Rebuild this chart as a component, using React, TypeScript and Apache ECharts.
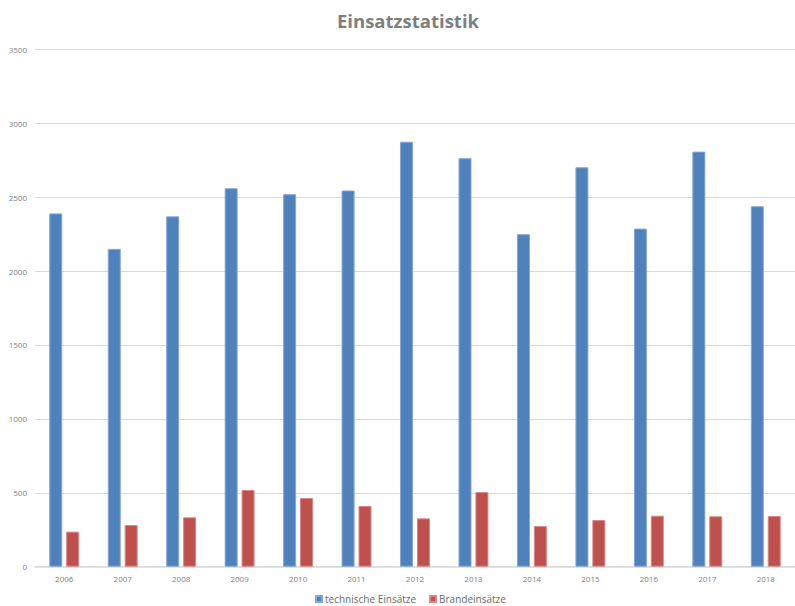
import React, { useEffect, useRef } from "react";
import * as echarts from "echarts";

const years = ["2006", "2007", "2008", "2009", "2010", "2011", "2012", "2013", "2014", "2015", "2016", "2017", "2018"];
const technische = [2390, 2150, 2370, 2560, 2520, 2545, 2875, 2763, 2249, 2702, 2287, 2808, 2438];
const brand = [237, 282, 334, 519, 465, 411, 327, 505, 275, 316, 345, 341, 343];
const seriesNames = ["technische Einsätze", "Brandeinsätze"];

export default function App() {
  const ref = useRef<HTMLDivElement>(null);
  useEffect(() => {
    document.body.style.margin = "0";
    const chart = echarts.init(ref.current!, null, { renderer: "svg" });
    chart.setOption({
      animation: false,
      backgroundColor: "#ffffff",
      textStyle: { fontFamily: "Open Sans" },
      title: {
        text: "Einsatzstatistik",
        left: 408,
        top: 11,
        padding: 0,
        textAlign: "center",
        textStyle: { fontSize: 18.5, fontWeight: "bold", color: "#7f7f7f", fontFamily: "Open Sans" },
      },
      legend: {
        data: seriesNames,
        left: 315,
        top: 594,
        padding: 0,
        icon: "rect",
        itemWidth: 6,
        itemHeight: 6,
        itemGap: 13,
        textStyle: { fontSize: 10, color: "#6b6b6b", padding: [0, 0, 0, -2] },
      },
      grid: { left: 35, top: 49.3, width: 768, height: 517.4, containLabel: false },
      xAxis: {
        type: "category",
        data: years,
        axisTick: { show: false },
        axisLine: { lineStyle: { color: "#d9d9d9", width: 1.5 } },
        axisLabel: { fontSize: 8, color: "#7f7f7f", margin: 8 },
      },
      yAxis: {
        type: "value",
        min: 0,
        max: 3500,
        interval: 500,
        axisLine: { show: false },
        axisTick: { show: false },
        axisLabel: { fontSize: 8, color: "#7f7f7f", margin: 8, formatter: (v: number) => String(v) },
        splitLine: { lineStyle: { color: "#d9d9d9", width: 1 } },
      },
      series: [
        {
          name: seriesNames[0],
          type: "bar",
          data: technische,
          barWidth: 13,
          barGap: "30%",
          itemStyle: { color: "#4f81bd", borderColor: "#86a7d2", borderWidth: 1 },
        },
        {
          name: seriesNames[1],
          type: "bar",
          data: brand,
          barWidth: 13,
          barGap: "30%",
          itemStyle: { color: "#c0504d", borderColor: "#d88886", borderWidth: 1 },
        },
      ],
    });
    return () => chart.dispose();
  }, []);
  return <div ref={ref} style={{ width: 795, height: 606 }} />;
}
